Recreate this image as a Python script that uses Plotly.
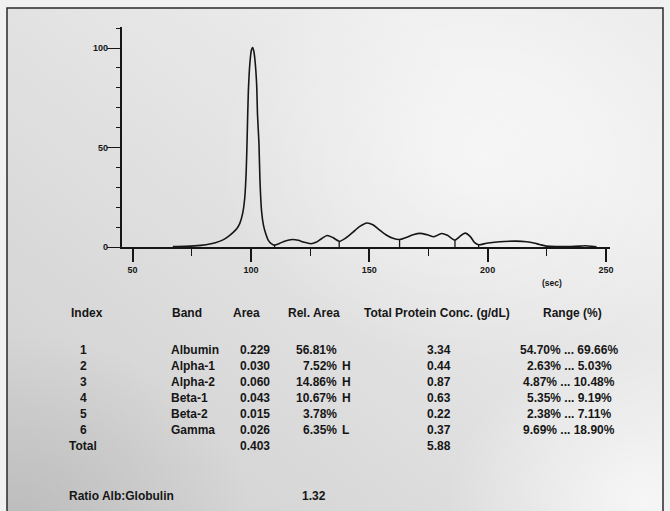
import base64
import plotly.graph_objects as go

# Densitometry trace: migration time (s) vs. relative absorbance
trace_time = [67, 72, 76, 81, 85, 88, 90.5, 92.5, 94, 95.3, 96.5, 97.4, 98.0, 98.4,
              98.9, 99.6, 100.2, 100.7, 101.2, 101.7, 102.4, 102.8, 103.4, 103.8,
              104.5, 105.3, 106.2, 107.3, 108.6, 110.0, 112.2, 114.5, 117.5, 120,
              122.5, 125.3, 127.5, 129.8, 132.2, 134.6, 137.3, 140, 143, 146, 149,
              151.5, 154, 157, 160, 162.8, 165.5, 168.5, 171.5, 174.5, 177.3, 180.5,
              183, 186.2, 188.2, 190.5, 192.6, 194.4, 196.2, 199.5, 203, 207, 212,
              216.5, 219.5, 222, 224.8, 230, 235, 239, 241.5, 244, 246]
trace_signal = [0.4, 0.5, 0.7, 1.3, 2.3, 3.6, 5.5, 7.5, 9.3, 12, 17, 25, 38, 55,
                78, 93, 99, 100.3, 98.5, 94, 82, 66, 52, 34,
                18, 11, 7, 3.6, 1.8, 1.1, 2.0, 3.2, 3.9, 3.5,
                2.5, 1.8, 2.5, 4.3, 5.9, 4.9, 3.0, 4.6, 7.5, 10.5, 12.2,
                11.3, 9.0, 6.3, 4.5, 3.9, 4.9, 6.3, 7.0, 6.3, 5.3, 6.9,
                6.0, 3.6, 5.4, 7.1, 5.5, 2.5, 1.3, 2.0, 2.5, 2.9, 3.1,
                2.8, 2.2, 1.4, 0.6, 0.4, 0.4, 0.6, 0.8, 0.5, 0.2]

# Fraction boundaries (points on the trace)
band_edges = [110.0, 137.3, 162.8, 186.2, 196.2]

x_ticks = [50, 100, 150, 200, 250]
y_ticks = [0, 50, 100]

# Fraction report
band_index = ["1", "2", "3", "4", "5", "6"]
bands = ["Albumin", "Alpha-1", "Alpha-2", "Beta-1", "Beta-2", "Gamma"]
areas = [0.229, 0.030, 0.060, 0.043, 0.015, 0.026]
rel_area = [56.81, 7.52, 14.86, 10.67, 3.78, 6.35]
flags = ["", "H", "H", "H", "", "L"]
protein_conc = [3.34, 0.44, 0.87, 0.63, 0.22, 0.37]
ref_low = [54.70, 2.63, 4.87, 5.35, 2.38, 9.69]
ref_high = [69.66, 5.03, 10.48, 9.19, 7.11, 18.90]
total_area = 0.403
total_protein = 5.88
ratio_alb_glob = 1.32

W, H = 670, 511
INK = "#161616"
FONT = "Liberation Sans, Arial, sans-serif"


def px(x):
    return x / W


def py(y):
    return 1 - y / H


# paper texture: uneven lighting on a photographed printout
svg = f"""<svg xmlns='http://www.w3.org/2000/svg' width='{W}' height='{H}'>
<defs>
<linearGradient id='g' x1='0' y1='1' x2='1' y2='0'>
<stop offset='0' stop-color='#cdcdcd'/>
<stop offset='0.45' stop-color='#e0e0e0'/>
<stop offset='0.8' stop-color='#eeeeee'/>
<stop offset='1' stop-color='#ececec'/>
</linearGradient>
<radialGradient id='hl' cx='0.72' cy='0.28' r='0.4'>
<stop offset='0' stop-color='#ffffff' stop-opacity='0.55'/>
<stop offset='1' stop-color='#ffffff' stop-opacity='0'/>
</radialGradient>
<radialGradient id='hl2' cx='0.97' cy='0.95' r='0.3'>
<stop offset='0' stop-color='#ffffff' stop-opacity='0.7'/>
<stop offset='1' stop-color='#ffffff' stop-opacity='0'/>
</radialGradient>
<radialGradient id='sh' cx='0.02' cy='0.98' r='0.35'>
<stop offset='0' stop-color='#a8a8a8' stop-opacity='0.45'/>
<stop offset='1' stop-color='#a8a8a8' stop-opacity='0'/>
</radialGradient>
</defs>
<rect width='{W}' height='{H}' fill='#f1f1f1'/>
<rect x='7' y='8' width='656' height='520' fill='url(#g)'/>
<rect x='7' y='8' width='656' height='520' fill='url(#hl)'/>
<rect x='7' y='8' width='656' height='520' fill='url(#hl2)'/>
<rect x='7' y='8' width='656' height='520' fill='url(#sh)'/>
</svg>"""
bg_uri = "data:image/svg+xml;base64," + base64.b64encode(svg.encode()).decode()

fig = go.Figure()

fig.add_trace(go.Scatter(
    x=trace_time, y=trace_signal, mode="lines",
    line=dict(color=INK, width=1.6, shape="spline", smoothing=0.7),
    hoverinfo="skip", showlegend=False,
))

# short vertical markers separating the fractions
sep_x, sep_y = [], []
for edge in band_edges:
    h = trace_signal[trace_time.index(edge)]
    sep_x += [edge, edge, None]
    sep_y += [0, h, None]
fig.add_trace(go.Scatter(
    x=sep_x, y=sep_y, mode="lines",
    line=dict(color=INK, width=1.3),
    hoverinfo="skip", showlegend=False,
))

tick_font = dict(family=FONT, size=9, color=INK, weight="bold")

fig.update_xaxes(
    domain=[px(121.7), px(610)], range=[45.4, 251.7],
    showline=True, linecolor=INK, linewidth=1.6,
    showgrid=False, zeroline=False, automargin=False,
    tickmode="array", tickvals=x_ticks, ticks="outside",
    ticklen=13, tickwidth=1.6, tickcolor=INK, tickfont=tick_font,
    minor=dict(tickmode="linear", tick0=50, dtick=25, ticks="outside",
               ticklen=7, tickwidth=1.3, tickcolor=INK, showgrid=False),
)
fig.update_yaxes(
    domain=[py(247.3), py(27.3)], range=[0, 110.4],
    showline=True, linecolor=INK, linewidth=1.6,
    showgrid=False, zeroline=False, automargin=False,
    tickmode="array", tickvals=y_ticks, ticks="outside",
    ticklen=13, tickwidth=1.4, tickcolor=INK, tickfont=tick_font,
    ticklabelstandoff=-3,
    minor=dict(tickmode="linear", tick0=0, dtick=10, ticks="outside",
               ticklen=4, tickwidth=1.3, tickcolor=INK, showgrid=False),
)

annotations = []


def put(text, x, y, anchor="left", size=12):
    annotations.append(dict(
        text=text, x=px(x), y=py(y), xref="paper", yref="paper",
        xanchor=anchor, yanchor="middle", showarrow=False,
        font=dict(family=FONT, size=size, color=INK, weight="bold"),
    ))


put("(sec)", 551.5, 282.5, "center", 8.5)

# column headers
HEAD_Y = 313
put("Index", 69, HEAD_Y)
put("Band", 170, HEAD_Y)
put("Area", 231, HEAD_Y)
put("Rel. Area", 286, HEAD_Y)
put("Total Protein Conc. (g/dL)", 362, HEAD_Y)
put("Range (%)", 541, HEAD_Y)

ROW_Y0, ROW_DY = 350, 16
for i in range(len(bands)):
    y = ROW_Y0 + i * ROW_DY
    put(band_index[i], 83.5, y, "center")
    put(bands[i], 169.5, y)
    put(f"{areas[i]:.3f}", 237.5, y)
    put(f"{rel_area[i]:.2f}%", 338.5, y, "right")
    if flags[i]:
        put(flags[i], 340.5, y)
    put(f"{protein_conc[i]:.2f}", 439, y, "center")
    put(f"{ref_low[i]:.2f}% ... {ref_high[i]:.2f}%", 569, y, "center")

total_y = ROW_Y0 + len(bands) * ROW_DY
put("Total", 67, total_y)
put(f"{total_area:.3f}", 237.5, total_y)
put(f"{total_protein:.2f}", 439, total_y, "center")

put("Ratio Alb:Globulin", 67, 496)
put(f"{ratio_alb_glob:.2f}", 300, 496)

fig.update_layout(
    width=W, height=H, autosize=False,
    margin=dict(l=0, r=0, t=0, b=0, pad=0, autoexpand=False),
    paper_bgcolor="#f1f1f1",
    plot_bgcolor="rgba(0,0,0,0)",
    annotations=annotations,
    images=[dict(source=bg_uri, xref="paper", yref="paper", x=0, y=1,
                 sizex=1, sizey=1, sizing="stretch", layer="below")],
    shapes=[dict(type="rect", xref="paper", yref="paper",
                 x0=px(7), y0=py(520), x1=px(663), y1=py(8),
                 line=dict(color="#2a2a2a", width=1.5), layer="above")],
)

fig.write_html("out.html", config={"responsive": False})
